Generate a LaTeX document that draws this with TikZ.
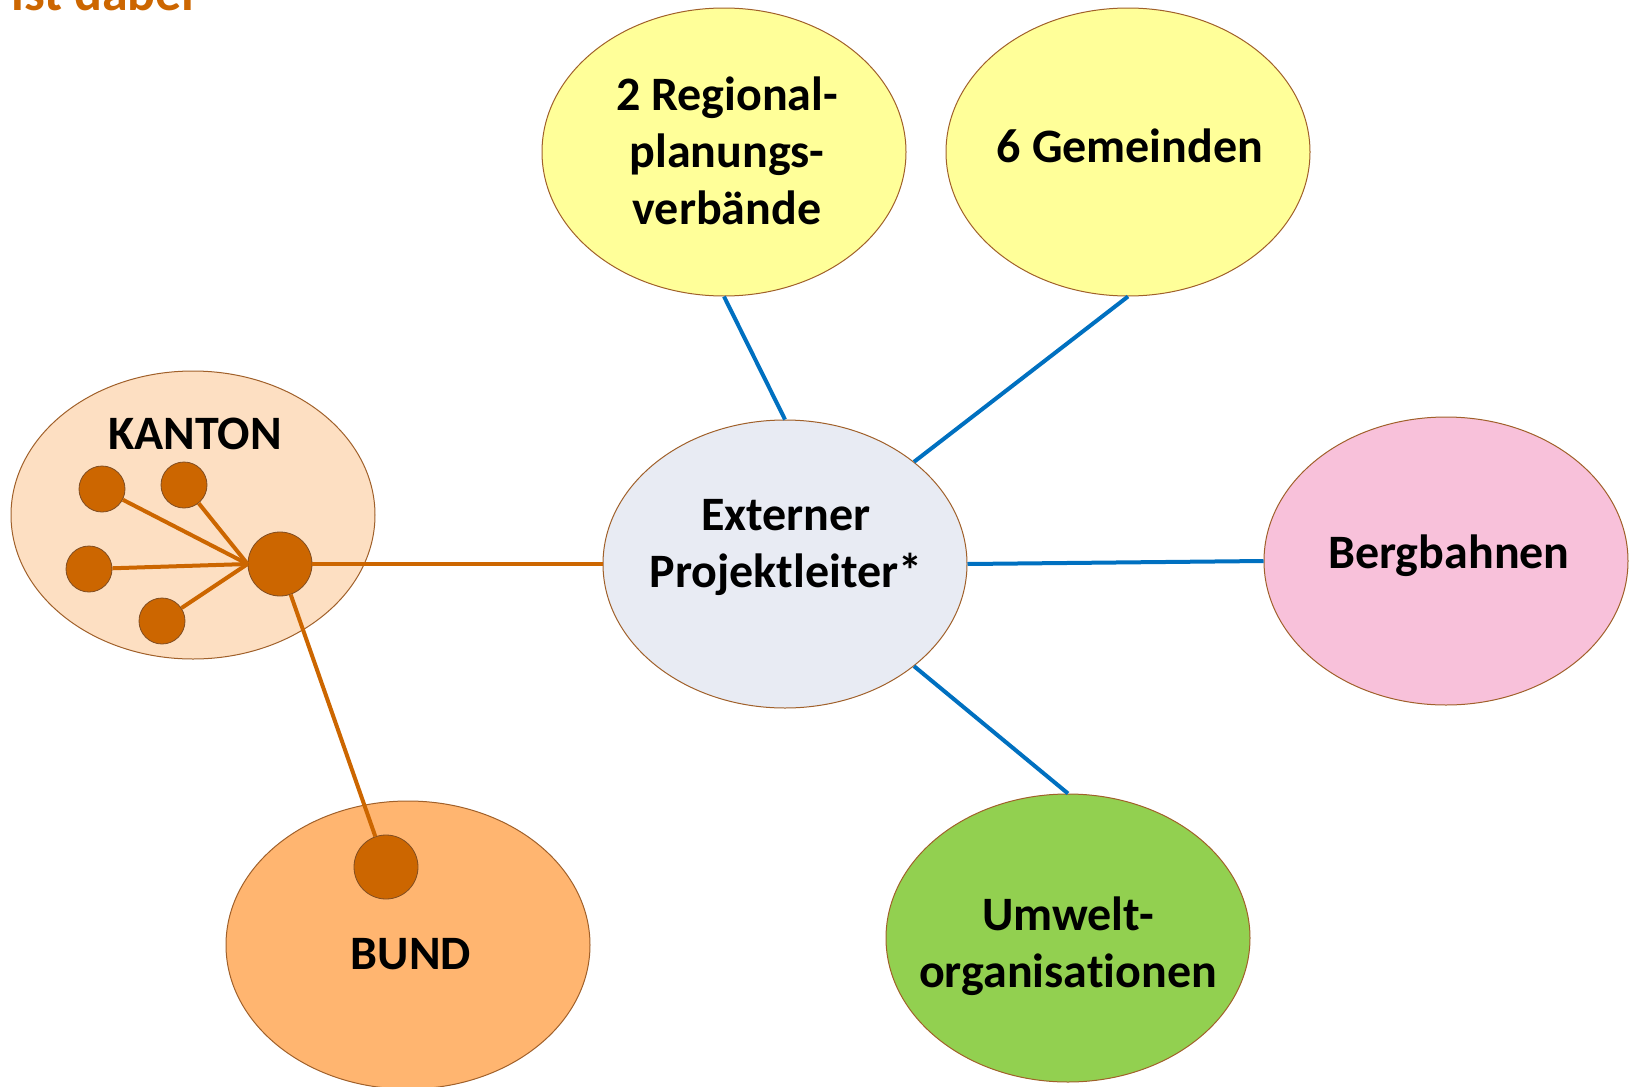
\documentclass[tikz,border=0pt]{standalone}
\usepackage{fontspec}
\setmainfont[Ligatures=NoCommon]{Carlito}
\usetikzlibrary{shapes.geometric}
\definecolor{yel}{HTML}{FFFF99}
\definecolor{extfill}{HTML}{E8EBF3}
\definecolor{pinkf}{HTML}{F8C1DA}
\definecolor{kantf}{HTML}{FDDFC2}
\definecolor{bundf}{HTML}{FFB570}
\definecolor{greenf}{HTML}{92D050}
\definecolor{brd}{HTML}{A0602A}
\definecolor{org}{HTML}{CC6600}
\definecolor{blu}{HTML}{0070C0}
\tikzset{
  bubble/.style={ellipse, draw=brd, line width=0.5pt, minimum width=182pt, minimum height=144pt, inner sep=0pt},
  lbl/.style={font=\fontsize{24}{28.5}\selectfont\bfseries, align=center, inner sep=0pt},
  dot/.style={circle, fill=org, draw=brd!80!black, line width=0.4pt, minimum size=23pt, inner sep=0pt},
  bigdot/.style={dot, minimum size=32pt},
  bline/.style={draw=blu, line width=2pt},
  oline/.style={draw=org, line width=2pt}
}
\begin{document}
\begin{tikzpicture}[x=0.5pt,y=-0.5pt]
\useasboundingbox (0,0) rectangle (1629,1087);
% title (clipped)
\node[anchor=base west, inner sep=0pt, font=\fontsize{26}{30}\selectfont\bfseries, text=org] (title) at (11,10) {ist dabei};
% bubbles
\node[bubble, fill=yel] (reg) at (724,152) {};
\node[bubble, fill=yel] (gem) at (1128,152) {};
\node[bubble, fill=kantf] (kant) at (193,515) {};
\node[bubble, fill=extfill] (ext) at (785,564) {};
\node[bubble, fill=pinkf] (berg) at (1446,561) {};
\node[bubble, fill=bundf] (bund) at (408,945) {};
\node[bubble, fill=greenf] (umw) at (1068,938) {};
% labels
\node[lbl] (treg) at (727,151) {2 Regional-\\planungs-\\verbände};
\node[lbl] (tgem) at (1130,146) {6 Gemeinden};
\node[lbl] (tkant) at (195,434) {KANTON};
\node[lbl] (text) at (786,547) {Externer\\Projektleiter*};
\node[lbl] (tberg) at (1449,556) {Bergbahnen};
\node[lbl] (tbund) at (411,954) {BUND};
\node[lbl] (tumw) at (1068,946) {Umwelt-\\organisationen};
% blue connectors
\draw[bline] (reg.south) -- (ext.north);
\draw[bline] (gem.south) -- (ext.north east);
\draw[bline] (ext.east) -- (berg.west);
\draw[bline] (ext.south east) -- (umw.north);
% circles
\node[bigdot] (big) at (280,564) {};
\node[dot] (s1) at (102,489) {};
\node[dot] (s2) at (184,485) {};
\node[dot] (s3) at (89,569) {};
\node[dot] (s4) at (162,621) {};
\node[bigdot] (bc) at (386,867) {};
% orange connectors
\draw[oline] (s1) -- (big.west);
\draw[oline] (s2) -- (big.west);
\draw[oline] (s3) -- (big.west);
\draw[oline] (s4) -- (big.west);
\draw[oline] (big.east) -- (ext.west);
\draw[oline] (big) -- (bc);
\end{tikzpicture}
\end{document}
